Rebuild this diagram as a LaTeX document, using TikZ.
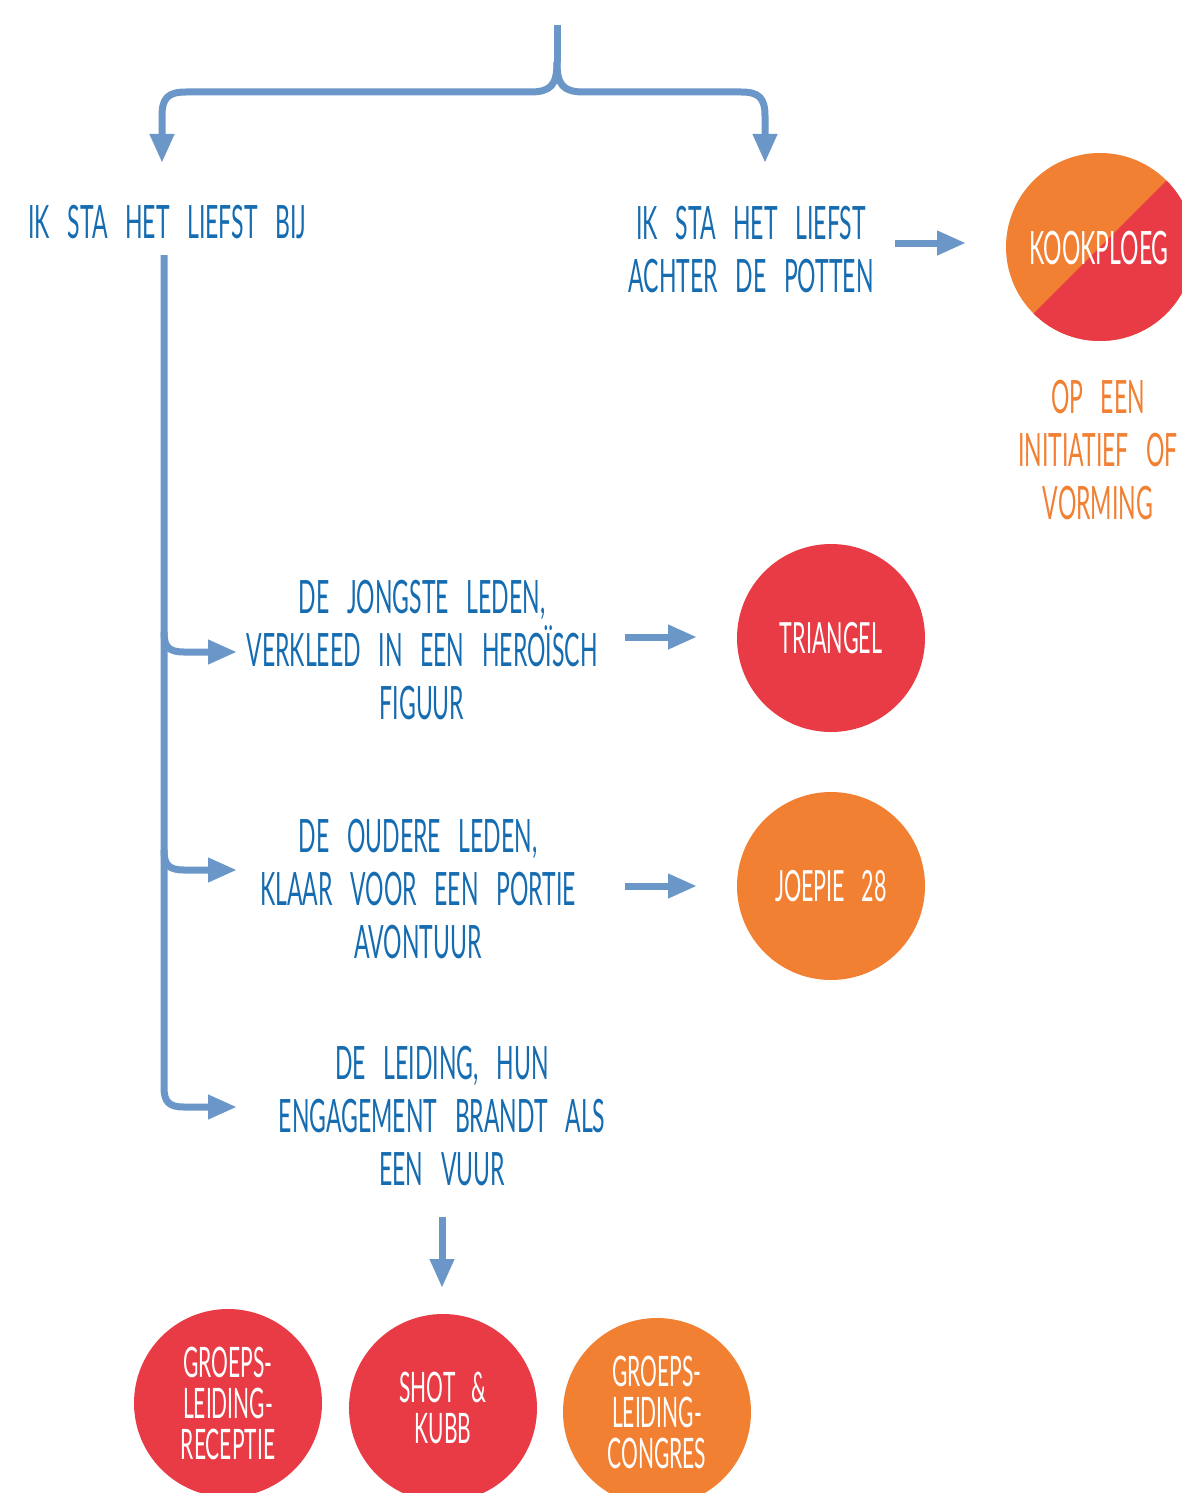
\documentclass[tikz,border=0pt]{standalone}
\usepackage{fontspec}
\setmainfont[FakeStretch=0.5,WordSpace=3]{Lato}
\usetikzlibrary{arrows.meta}
\definecolor{arrowblue}{RGB}{106,150,200}
\definecolor{txtblue}{RGB}{22,108,176}
\definecolor{cred}{RGB}{233,59,69}
\definecolor{corange}{RGB}{242,128,51}
\tikzset{
  conn/.style={draw=arrowblue, line width=7pt},
  arr/.style={conn, -{Triangle[length=29pt,width=23pt]}},
  bluetxt/.style={text=txtblue, align=center, inner sep=0pt, font=\fontsize{46}{53}\selectfont},
  orangetxt/.style={text=corange, align=center, inner sep=0pt, font=\fontsize{46}{53}\selectfont},
  bubble/.style={circle, minimum size=188pt, inner sep=0pt, text=white, align=center, font=\fontsize{43}{43}\selectfont},
  smallbubble/.style={bubble, font=\fontsize{42}{41}\selectfont},
}
\begin{document}
\begin{tikzpicture}[x=1pt,y=-1pt]
\useasboundingbox (0,0) rectangle (1181,1493);
% text nodes
\node[bluetxt, anchor=west] (bij) at (28,222) {IK STA HET LIEFST BIJ};
\node[bluetxt] (potten) at (751,250) {IK STA HET LIEFST\\ACHTER DE POTTEN};
\node[bubble, fill=corange, path picture={\fill[cred] (path picture bounding box.north east) -- (path picture bounding box.south west) -- (path picture bounding box.south east) -- cycle;}] (kook) at (1100,247) {};
\node[text=white, inner sep=0pt, font=\fontsize{46}{46}\selectfont] (kooklbl) at (1099,248) {KOOKPLOEG};
\node[orangetxt] (opeen) at (1098,450) {OP EEN\\INITIATIEF OF\\VORMING};
\node[bluetxt] (t1) at (422,650) {DE JONGSTE LEDEN,\\VERKLEED IN EEN HEROÏSCH\\FIGUUR};
\node[bluetxt] (t2) at (418,889) {DE OUDERE LEDEN,\\KLAAR VOOR EEN PORTIE\\AVONTUUR};
\node[bluetxt] (t3) at (442,1116) {DE LEIDING, HUN\\ENGAGEMENT BRANDT ALS\\EEN VUUR};
\node[bubble, fill=cred] (triangel) at (831,638) {TRIANGEL};
\node[bubble, fill=corange] (joepie) at (831,886) {JOEPIE 28};
\node[smallbubble, fill=cred] (receptie) at (228,1403) {GROEPS-\\LEIDING-\\RECEPTIE};
\node[smallbubble, fill=cred] (shot) at (443,1408) {SHOT \&\\KUBB};
\node[smallbubble, fill=corange] (congres) at (657,1412) {GROEPS-\\LEIDING-\\CONGRES};
% coordinates
\coordinate (top) at (557,25);
\coordinate (split) at (557,62);
\coordinate (lefttip) at (162,163);
\coordinate (righttip) at (765,163);
\coordinate (vstart) at (164,255);
\coordinate (b1) at (237,652);
\coordinate (b2) at (237,870);
\coordinate (b3) at (237,1107);
\coordinate (a0s) at (895,243); \coordinate (a0e) at (966,243);
\coordinate (a1s) at (625,637); \coordinate (a1e) at (697,637);
\coordinate (a2s) at (625,886); \coordinate (a2e) at (697,886);
\coordinate (a3s) at (442,1217); \coordinate (a3e) at (442,1288);
% brace
\draw[conn] (top) -- (split);
\draw[arr] (split) .. controls (557,85) and (551,92) .. (530,92) -- (186,92) .. controls (168,92) and (162,98) .. (162,116) -- (lefttip);
\draw[arr] (split) .. controls (557,85) and (563,92) .. (584,92) -- (741,92) .. controls (759,92) and (765,98) .. (765,116) -- (righttip);
% left trunk
\draw[arr] (vstart) -- (164,1087) .. controls (164,1102) and (169,1107) .. (184,1107) -- (b3);
\draw[arr] (164,632) .. controls (164,647) and (169,652) .. (184,652) -- (b1);
\draw[arr] (164,850) .. controls (164,865) and (169,870) .. (184,870) -- (b2);
% horizontal arrows
\draw[arr] (a0s) -- (a0e);
\draw[arr] (a1s) -- (a1e);
\draw[arr] (a2s) -- (a2e);
\draw[arr] (a3s) -- (a3e);
\end{tikzpicture}
\end{document}
